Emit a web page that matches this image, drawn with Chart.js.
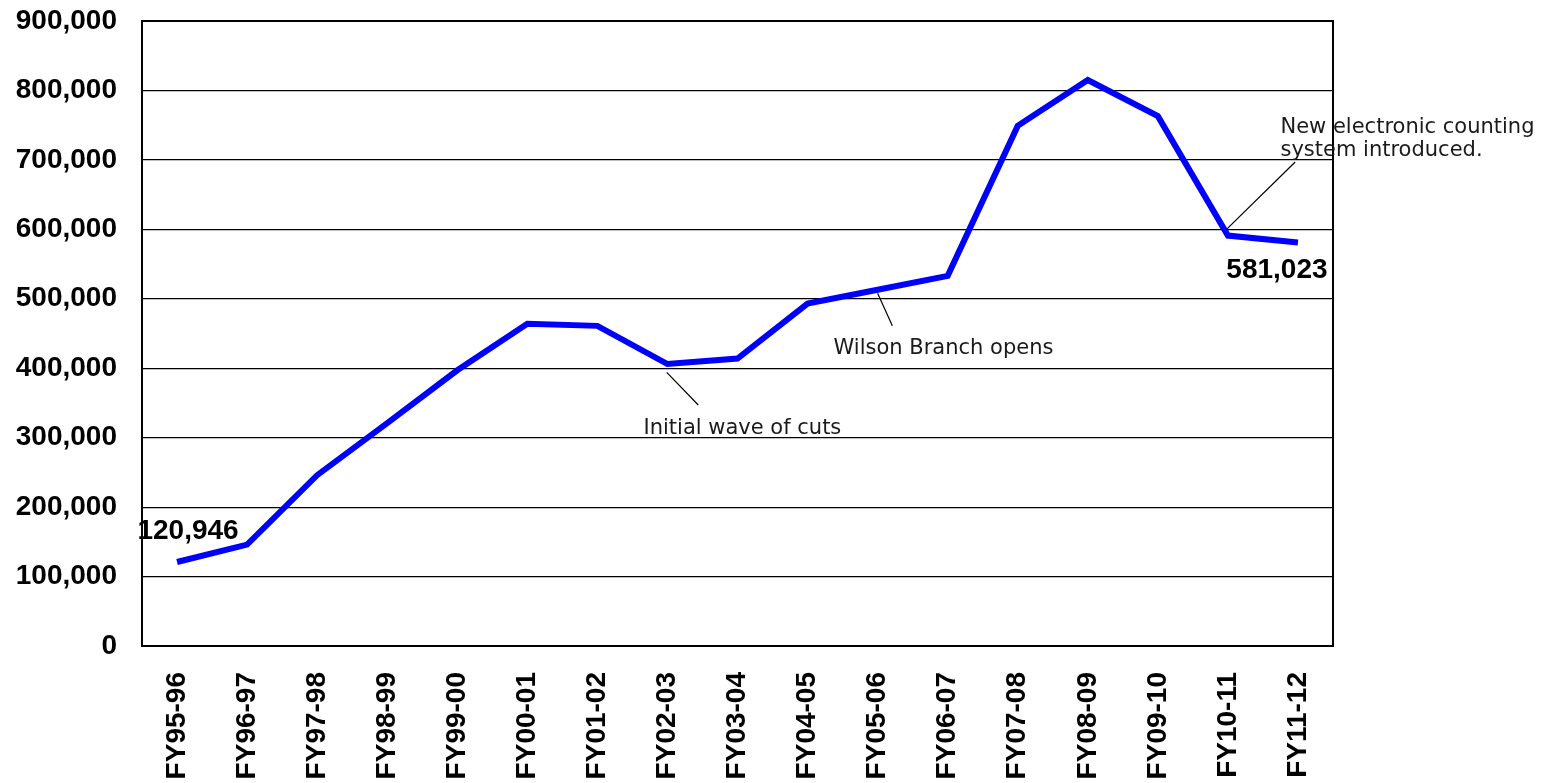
<!DOCTYPE html>
<html lang="en">
<head>
    <meta charset="UTF-8">
    <title>Annual Circulation</title>
    <style>
        html, body {
            margin: 0;
            padding: 0;
            background-color: #fff;
            overflow: hidden;
        }
        canvas {
            display: block;
        }
    </style>
</head>
<body>

<canvas id="circChart" width="1554" height="783"></canvas>

<script src="https://cdn.jsdelivr.net/npm/chart.js"></script>
<script>
    // fiscal years on the x axis
    const years = ['FY95-96', 'FY96-97', 'FY97-98', 'FY98-99', 'FY99-00', 'FY00-01', 'FY01-02', 'FY02-03',
        'FY03-04', 'FY04-05', 'FY05-06', 'FY06-07', 'FY07-08', 'FY08-09', 'FY09-10', 'FY10-11', 'FY11-12'];

    // values (first and last are labelled exactly)
    const totals = [120946, 146000, 246000, 321000, 397000, 464000, 461000, 406000,
        414000, 493000, 513000, 533000, 749000, 815000, 763000, 591000, 581023];

    const yTicks = [0, 100000, 200000, 300000, 400000, 500000, 600000, 700000, 800000, 900000];

    // which points get a value label
    const labelledPoints = [0, totals.length - 1];

    // notes: text position and leader line, in (category index, value) units
    const noteTexts = [['Initial wave of cuts'], ['Wilson Branch opens'], ['New electronic counting', 'system introduced.']];
    const noteAnchors = [[8.07, 313000], [10.94, 429000], [15.75, 747000]];
    const noteAligns = ['center', 'center', 'left'];
    const leaderFrom = [[6.99, 394000], [10.0, 508000], [14.98, 600000]];
    const leaderTo = [[7.44, 347000], [10.21, 461000], [15.96, 697000]];

    var chart;

    const notesPlugin = {
        id: 'notes',
        afterDatasetsDraw(chart) {
            const ctx = chart.ctx;
            const xs = chart.scales.x;
            const ys = chart.scales.y;
            const area = chart.chartArea;

            ctx.save();
            // plot frame
            ctx.strokeStyle = '#000';
            ctx.lineWidth = 2;
            ctx.strokeRect(area.left, area.top, area.right - area.left, area.bottom - area.top);

            // leader lines
            ctx.lineWidth = 1.2;
            for (let i = 0; i < noteTexts.length; i++) {
                ctx.beginPath();
                ctx.moveTo(xs.getPixelForValue(leaderFrom[i][0]), ys.getPixelForValue(leaderFrom[i][1]));
                ctx.lineTo(xs.getPixelForValue(leaderTo[i][0]), ys.getPixelForValue(leaderTo[i][1]));
                ctx.stroke();
            }

            // note text
            ctx.fillStyle = '#1a1a1a';
            ctx.font = '21px "DejaVu Sans"';
            ctx.textBaseline = 'middle';
            for (let i = 0; i < noteTexts.length; i++) {
                ctx.textAlign = noteAligns[i];
                const x = xs.getPixelForValue(noteAnchors[i][0]);
                const y = ys.getPixelForValue(noteAnchors[i][1]);
                noteTexts[i].forEach((line, j) => ctx.fillText(line, x, y + j * 23.5));
            }

            // value labels on first and last point
            ctx.fillStyle = '#000';
            ctx.font = 'bold 28px "Liberation Sans", Arial, sans-serif';
            ctx.textAlign = 'center';
            labelledPoints.forEach(idx => {
                const x = xs.getPixelForValue(idx);
                const y = ys.getPixelForValue(totals[idx]);
                const text = totals[idx].toLocaleString('en-US');
                if (idx === 0) {
                    ctx.fillText(text, x + 11, y - 31);
                } else {
                    ctx.fillText(text, x - 21, y + 28);
                }
            });
            ctx.restore();
        }
    };

    const ctx = document.getElementById('circChart').getContext('2d');
    chart = new Chart(ctx, {
        type: 'line',
        data: {
            labels: years,
            datasets: [{
                label: 'Circulation',
                data: totals,
                borderColor: '#0000ff',
                backgroundColor: '#0000ff',
                borderWidth: 6,
                pointRadius: 0,
                tension: 0,
                fill: false
            }]
        },
        options: {
            responsive: false,
            animation: false,
            devicePixelRatio: 1,
            layout: {
                padding: { top: 21, right: 221, left: 0, bottom: 0 }
            },
            plugins: {
                legend: { display: false },
                tooltip: { enabled: false }
            },
            scales: {
                x: {
                    offset: true,
                    grid: { display: false, drawTicks: false },
                    border: { display: true, color: '#000', width: 2 },
                    ticks: {
                        autoSkip: false,
                        minRotation: 90,
                        maxRotation: 90,
                        padding: 26,
                        color: '#000',
                        font: { family: '"Liberation Sans", Arial, sans-serif', size: 28, weight: 'bold' }
                    },
                    afterFit: function(scale) {
                        scale.height = 137;
                        scale.paddingLeft = 0;
                        scale.paddingRight = 0;
                    }
                },
                y: {
                    min: 0,
                    max: 900000,
                    afterBuildTicks: function(scale) {
                        scale.ticks = yTicks.map(v => ({ value: v }));
                    },
                    grid: { color: '#000', lineWidth: 1.2, drawTicks: false },
                    border: { display: true, color: '#000', width: 2 },
                    ticks: {
                        padding: 25,
                        color: '#000',
                        font: { family: '"Liberation Sans", Arial, sans-serif', size: 28, weight: 'bold' },
                        callback: function(value) {
                            return value.toLocaleString('en-US');
                        }
                    },
                    afterFit: function(scale) {
                        scale.width = 142;
                        scale.paddingTop = 0;
                        scale.paddingBottom = 0;
                    }
                }
            }
        },
        plugins: [notesPlugin]
    });
</script>

</body>
</html>
